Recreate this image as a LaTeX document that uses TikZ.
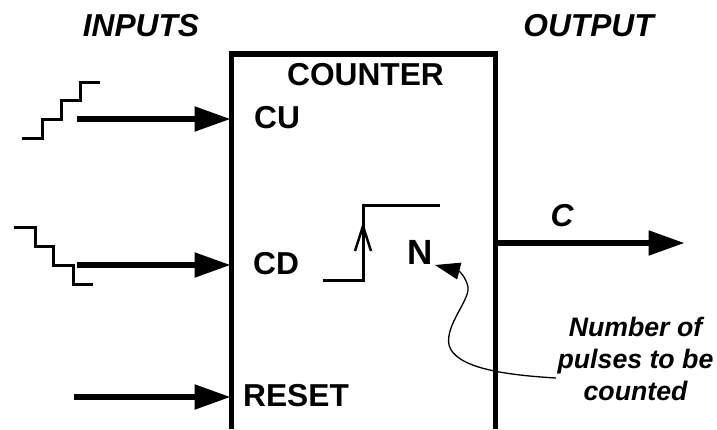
\documentclass[tikz,border=0pt]{standalone}
\usepackage{fontspec}
\usepackage{xcolor}
\setmainfont{Liberation Sans}
\usetikzlibrary{calc,arrows.meta,positioning}
\tikzset{
    bigarrow/.style={line width=5.3pt, -{Triangle[length=36pt,width=24pt]}},
    pulseline/.style={line width=3pt, line join=miter},
    boxlabel/.style={font=\fontsize{31.7}{36}\selectfont\bfseries, inner sep=0pt},
    headlabel/.style={font=\fontsize{31.7}{36}\selectfont\bfseries\itshape, inner sep=0pt},
    notelabel/.style={font=\fontsize{26.7}{32}\selectfont\bfseries\itshape, inner sep=0pt, align=center}
}

\begin{document}
\begin{tikzpicture}[x=1pt,y=-1pt]
    \useasboundingbox (0,0) rectangle (717,429);

    \node[headlabel] (inputs) at (141,26) {INPUTS};
    \node[headlabel] (output) at (588.5,26) {OUTPUT};

    % counter body, open at the bottom
    \coordinate (boxBL) at (231.5,429);
    \coordinate (boxTL) at (231.5,54);
    \coordinate (boxTR) at (495.5,54);
    \coordinate (boxBR) at (495.5,429);
    \draw[line width=5.5pt, line join=miter] (boxBL) -- (boxTL) -- (boxTR) -- (boxBR);

    \node[boxlabel] (counter) at (365.5,75) {COUNTER};
    \node[boxlabel, anchor=west] (cu) at (254,118) {CU};
    \node[boxlabel, anchor=west] (cd) at (253,264) {CD};
    \node[boxlabel, anchor=west] (reset) at (243,396) {RESET};
    \node[font=\fontsize{35}{40}\selectfont\bfseries, inner sep=0pt] (nval) at (420.5,252) {N};

    % input and output arrows
    \coordinate (cuStart) at (77,119);
    \coordinate (cuEnd) at (230.5,119);
    \coordinate (cdStart) at (77,265);
    \coordinate (cdEnd) at (230.5,265);
    \coordinate (resetStart) at (74,397);
    \coordinate (resetEnd) at (230.5,397);
    \coordinate (cStart) at (495.5,243);
    \coordinate (cEnd) at (684.5,243);
    \draw[bigarrow] (cuStart) -- (cuEnd);
    \draw[bigarrow] (cdStart) -- (cdEnd);
    \draw[bigarrow] (resetStart) -- (resetEnd);
    \draw[bigarrow] (cStart) -- (cEnd);
    \node[headlabel] (clabel) at (562,216) {C};

    % staircases
    \draw[pulseline] (22,138) -- (42,138) -- (42,119) -- (61,119) -- (61,100) -- (80,100) -- (80,82) -- (100,82);
    \draw[pulseline] (14,227) -- (35,227) -- (35,246) -- (53,246) -- (53,265) -- (73,265) -- (73,284) -- (93,284);

    % rising edge
    \draw[pulseline] (323,280) -- (363,280) -- (363,205) -- (440,205);
    \draw[line width=2.5pt] (355,251) -- (363,226) -- (371,251);

    \node[notelabel] (note) at (635.5,359) {Number of\\pulses to be\\counted};

    \coordinate (noteEnd) at (556,378);
    \draw[line width=1.3pt, -{Triangle[length=25pt,width=17pt]}] (noteEnd)
        .. controls (505,375) and (455,368) .. (449,345)
        .. controls (445,325) and (470,300) .. (468,287)
        .. controls (466,277) and (459,271) .. (435,265);
\end{tikzpicture}
\end{document}
